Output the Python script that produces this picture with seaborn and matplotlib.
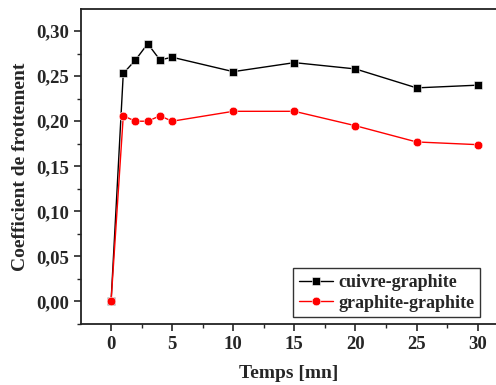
import matplotlib
matplotlib.use("Agg")
import matplotlib.pyplot as plt
import seaborn as sns
import pandas as pd
from matplotlib.ticker import MultipleLocator, FuncFormatter

temps = [0, 1, 2, 3, 4, 5, 10, 15, 20, 25, 30]
cuivre = [0.0, 0.253, 0.268, 0.286, 0.268, 0.271, 0.255, 0.265, 0.258, 0.237, 0.240]
graphite = [0.0, 0.206, 0.200, 0.200, 0.206, 0.200, 0.211, 0.211, 0.195, 0.177, 0.174]
labels = ["cuivre-graphite", "graphite-graphite"]

sns.set_style("ticks")
plt.rcParams['font.family'] = ['Liberation Serif', 'DejaVu Serif']
plt.rcParams['font.weight'] = 'bold'

df = pd.DataFrame({
    "t": temps * 2,
    "v": cuivre + graphite,
    "s": [labels[0]] * len(temps) + [labels[1]] * len(temps),
})

fig = plt.figure(figsize=(4.96, 3.85), dpi=100)
ax = fig.add_axes([0.1633, 0.1584, 0.8367, 0.8182])

sns.lineplot(data=df, x="t", y="v", hue="s", style="s",
             palette={labels[0]: "black", labels[1]: "red"},
             markers={labels[0]: "s", labels[1]: "o"},
             dashes=False, markersize=6.2, linewidth=1.0,
             markeredgecolor="white", markeredgewidth=0.4, ax=ax)

ax.set_xlim(-2.46, 31.5)
ax.set_ylim(-0.025, 0.3245)
ax.xaxis.set_major_locator(MultipleLocator(5))
ax.xaxis.set_minor_locator(MultipleLocator(2.5))
ax.yaxis.set_major_locator(MultipleLocator(0.05))
ax.yaxis.set_minor_locator(MultipleLocator(0.025))
ax.yaxis.set_major_formatter(FuncFormatter(lambda v, p: f"{v:.2f}".replace(".", ",").replace("-", "")))
ax.tick_params(which="major", direction="out", length=5, width=1.2, labelsize=13.5)
ax.tick_params(which="minor", direction="out", length=3, width=1.0)
for lab in ax.get_xticklabels() + ax.get_yticklabels():
    lab.set_fontweight("bold")
for sp in ax.spines.values():
    sp.set_linewidth(1.3)
    sp.set_color("#222222")
ax.spines["right"].set_visible(False)

ax.set_xlabel("Temps [mn]", fontsize=14, fontweight="bold", labelpad=9)
ax.set_ylabel("Coefficient de frottement", fontsize=14, fontweight="bold", labelpad=5)

leg = ax.legend(loc="lower right", bbox_to_anchor=(0.970, 0.011), fontsize=13,
                frameon=True, fancybox=False, edgecolor="black",
                handlelength=1.9, handletextpad=0.3, borderpad=0.3,
                labelspacing=0.2, borderaxespad=0.2)
leg.get_frame().set_linewidth(1.0)
for t in leg.get_texts():
    t.set_fontweight("bold")

fig.savefig("out.png", dpi=100)
